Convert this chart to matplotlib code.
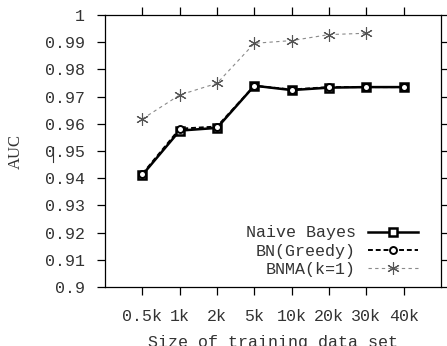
import numpy as np
import matplotlib
matplotlib.use("Agg")
from matplotlib import pyplot as plt
from matplotlib.lines import Line2D

#--------------------------------------------------------------------------#
# data
#--------------------------------------------------------------------------#

sizes = ['0.5k', '1k', '2k', '5k', '10k', '20k', '30k', '40k']
naive_bayes = [0.9412, 0.9575, 0.9585, 0.9740, 0.9724, 0.9733, 0.9735, 0.9735]
bn_greedy = [0.9416, 0.9582, 0.9590, 0.9740, 0.9726, 0.9735, 0.9735, 0.9735]
bnma = [0.9618, 0.9706, 0.9749, 0.9896, 0.9906, 0.9928, 0.9933]

yticks = [0.9, 0.91, 0.92, 0.93, 0.94, 0.95, 0.96, 0.97, 0.98, 0.99, 1.0]
ytick_labels = ['0.9', '0.91', '0.92', '0.93', '0.94', '0.95', '0.96',
                '0.97', '0.98', '0.99', '1']

#--------------------------------------------------------------------------#

mono = 'Liberation Mono'
plt.rcParams['font.family'] = mono

fig = plt.figure(figsize=(4.47, 3.46), dpi=100)
ax = fig.add_axes([0.235, 0.1705, 0.7516, 0.7861])

x = np.arange(1, len(sizes) + 1)

ax.plot(x, naive_bayes, color='black', lw=1.8, marker='s', ms=6,
        mfc='white', mec='black', mew=1.8, label='Naive Bayes')
ax.plot(x, bn_greedy, color='black', lw=1.4, ls=(0, (2.5, 1.5)), marker='o',
        ms=5, mfc='white', mec='black', mew=1.4, label='BN(Greedy)')
ax.plot(x[:len(bnma)], bnma, color='#8a8a8a', lw=0.8, ls=(0, (3, 3)),
        marker=(6, 2, 0), ms=9, mec='#555555', mew=0.8, label='BNMA(k=1)')

ax.set_xlim(0, 9)
ax.set_ylim(0.9, 1.0)
ax.set_xticks(x)
ax.set_xticklabels(sizes)
ax.set_yticks(yticks)
ax.set_yticklabels(ytick_labels)

ax.tick_params(axis='both', direction='out', length=6, width=0.9,
               labelsize=12, colors='black', labelcolor='#333333')
ax.tick_params(axis='x', pad=10, top=True)
ax.tick_params(axis='y', pad=8.5, right=True)
for s in ax.spines.values():
    s.set_linewidth(0.9)

ax.set_xlabel('Size of training data set', fontsize=12, color='#333333',
              labelpad=7.5)
ax.set_ylabel('AUC', fontsize=12, family='Liberation Serif', color='#333333',
              labelpad=15)

leg = ax.legend(loc='lower right', bbox_to_anchor=(0.96, 0.0), frameon=False,
                markerfirst=False, handlelength=3.0, handletextpad=0.7,
                labelspacing=0.2, fontsize=12, borderaxespad=0.2)
for t in leg.get_texts():
    t.set_color('#333333')
    t.set_ha('right')

# stray cursor mark next to 0.95 in the original
fig.add_artist(Line2D([53 / 447, 53 / 447], [1 - 147 / 346, 1 - 162 / 346],
                      color='#333333', lw=0.8))

fig.savefig('out.png', dpi=100)
